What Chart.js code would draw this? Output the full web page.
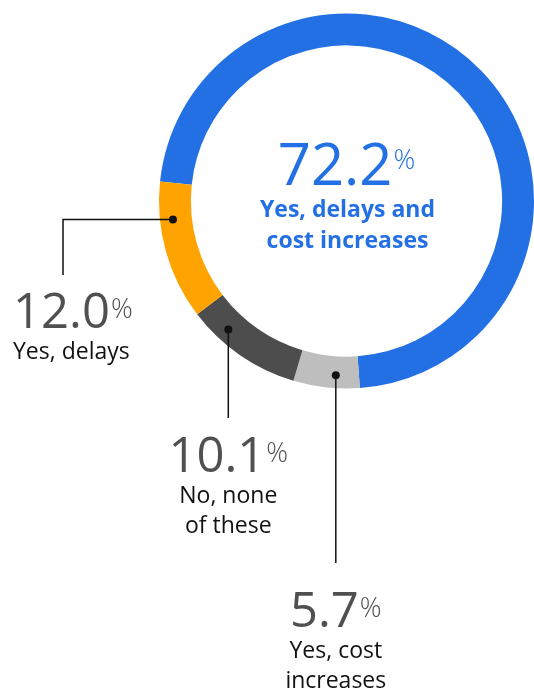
<!DOCTYPE html>
<html lang="en">
<head>
<meta charset="UTF-8">
<meta name="viewport" content="width=device-width, initial-scale=1">
<title>Delays and cost increases</title>
<script src="https://cdn.jsdelivr.net/npm/chart.js@4.4.0/dist/chart.umd.min.js"></script>
<style>
  html, body { margin: 0; padding: 0; background: #fff; }
  #wrap { width: 534px; height: 692px; position: relative; }
</style>
</head>
<body>
<div id="wrap"><canvas id="donut"></canvas></div>
<script>
// data, in clockwise order starting from the blue slice
const labels = ['Yes, delays and cost increases', 'Yes, cost increases', 'No, none of these', 'Yes, delays'];
const values = [72.2, 5.7, 10.1, 12.0];
const colors = ['#2270e3', '#bebebe', '#4d4d4d', '#ffa300'];
const textLines = [['Yes, delays and', 'cost increases'], ['Yes, cost', 'increases'], ['No, none', 'of these'], ['Yes, delays']];

// where the callouts sit (slice index, point along arc, line end, text anchor)
const callouts = [
  { i: 3, frac: 0.72, elbowX: 63, endY: 275, textX: 13, align: 'left', numBase: 328 },
  { i: 2, frac: 0.72, endY: 418, align: 'center', numBase: 472 },
  { i: 1, frac: 0.37, endY: 563, align: 'center', numBase: 627 }
];

const FONT = '"Open Sans", "DejaVu Sans", sans-serif';

function drawValue(ctx, val, x, base, size, color, align) {
  const num = val.toFixed(1);
  const pctSize = 27;
  ctx.font = `400 ${size}px ${FONT}`;
  const w1 = ctx.measureText(num).width;
  ctx.font = `300 ${pctSize}px ${FONT}`;
  const w2 = ctx.measureText('%').width;
  const left = align === 'center' ? x - (w1 + w2 + 1) / 2 : x;
  ctx.textAlign = 'left';
  ctx.textBaseline = 'alphabetic';
  ctx.fillStyle = color;
  ctx.font = `400 ${size}px ${FONT}`;
  ctx.fillText(num, left, base);
  ctx.font = `300 ${pctSize}px ${FONT}`;
  ctx.fillText('%', left + w1 + 1, base - 0.714 * size + 25);
}

const calloutPlugin = {
  id: 'callouts',
  afterDraw(chart) {
    const ctx = chart.ctx;
    const meta = chart.getDatasetMeta(0);
    ctx.save();

    // middle label for the big slice
    const a0 = meta.data[0].getProps(['x', 'y'], true);
    drawValue(ctx, values[0], a0.x, a0.y - 16, 58, colors[0], 'center');
    ctx.font = `700 23px ${FONT}`;
    ctx.fillStyle = colors[0];
    ctx.textAlign = 'center';
    textLines[0].forEach((t, k) => ctx.fillText(t, a0.x + 1, a0.y + 16 + k * 31));

    callouts.forEach(c => {
      const arc = meta.data[c.i].getProps(['x', 'y', 'startAngle', 'endAngle', 'innerRadius', 'outerRadius'], true);
      const ang = arc.startAngle + c.frac * (arc.endAngle - arc.startAngle);
      const r = (arc.innerRadius + arc.outerRadius) / 2 + 3;
      const px = arc.x + Math.cos(ang) * r;
      const py = arc.y + Math.sin(ang) * r;

      ctx.strokeStyle = '#111';
      ctx.lineWidth = 1.5;
      ctx.beginPath();
      ctx.moveTo(px, py);
      let lx = px;
      if (c.elbowX !== undefined) {
        ctx.lineTo(c.elbowX, py);
        lx = c.elbowX;
      }
      ctx.lineTo(lx, c.endY);
      ctx.stroke();

      ctx.fillStyle = '#111';
      ctx.beginPath();
      ctx.arc(px, py, 4, 0, Math.PI * 2);
      ctx.fill();

      const tx = c.align === 'left' ? c.textX : px;
      drawValue(ctx, values[c.i], tx, c.numBase, 49, '#505050', c.align);
      ctx.font = `400 23px ${FONT}`;
      ctx.fillStyle = '#111';
      ctx.textAlign = c.align;
      textLines[c.i].forEach((t, k) => ctx.fillText(t, tx, c.numBase + 31 + k * 30));
    });

    ctx.restore();
  }
};

new Chart(document.getElementById('donut'), {
  type: 'doughnut',
  data: {
    labels: labels,
    datasets: [{
      data: values,
      backgroundColor: colors,
      borderWidth: 0,
      hoverOffset: 0
    }]
  },
  options: {
    responsive: true,
    maintainAspectRatio: false,
    animation: false,
    events: [],
    cutout: '83%',
    rotation: 276,
    layout: { padding: { left: 159, right: 0, top: 13, bottom: 303 } },
    plugins: {
      legend: { display: false },
      tooltip: { enabled: false }
    }
  },
  plugins: [calloutPlugin]
});
</script>
</body>
</html>
